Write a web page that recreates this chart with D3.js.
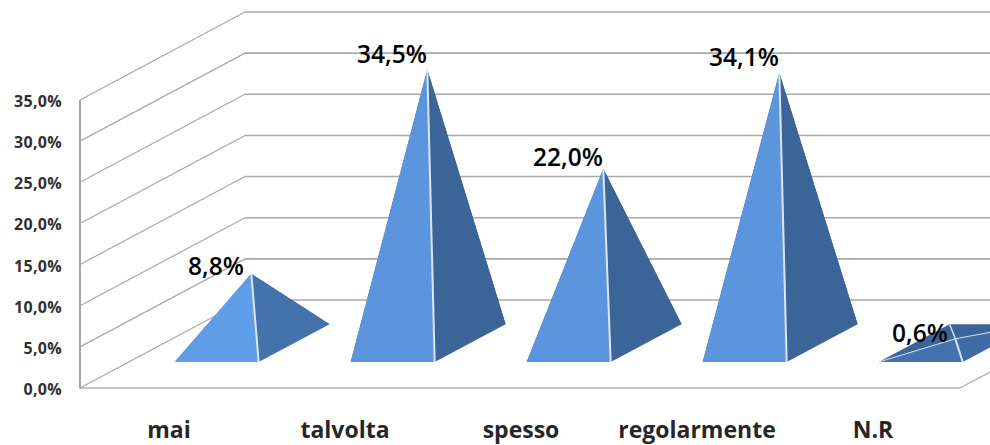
<!DOCTYPE html>
<html><head><meta charset="utf-8">
<script src="https://cdn.jsdelivr.net/npm/d3@7"></script>
<style>html,body{margin:0;padding:0;background:#fff;overflow:hidden}svg{display:block}</style>
</head><body><svg id="c" width="990" height="445"></svg>
<script>
const categories = ["mai","talvolta","spesso","regolarmente","N.R"];
const values = [8.8,34.5,22.0,34.1,0.6];
const valueLabels = ["8,8%","34,5%","22,0%","34,1%","0,6%"];
const tickValues = [0,5,10,15,20,25,30,35];
const tickLabels = ["0,0%","5,0%","10,0%","15,0%","20,0%","25,0%","30,0%","35,0%"];
const frontColors = ["#5f9de9","#5a95de","#5a95de","#5a95de","#4472ae"];
const sideColors = ["#4472aa","#3b6598","#3b6598","#3b6598","#3f6ca6"];

const svg = d3.select("#c");
const x = d3.scaleBand().domain(categories).range([80,960]);
const y = d3.scaleLinear().domain([0,35]).range([388,100]);
const apexH = d3.scaleLinear().domain([0,35]).range([0,278]);
const depth = d3.scaleLinear().domain([0,1]).range([0,165]);
const rise = d3.scaleLinear().domain([0,1]).range([0,88]);
const P = (wx,v,d)=>[wx+depth(d), y(v)-rise(d)];
const D0=0.295, D1=0.725, DM=0.505, HW=42;
const grid = "#a9a9a9";

const g = svg.append("g");
tickValues.forEach(t=>{
  const a=P(80,t,0), b=P(80,t,1), c=[990,b[1]];
  g.append("line").attr("x1",a[0]).attr("y1",a[1]).attr("x2",b[0]).attr("y2",b[1]).attr("stroke",grid).attr("stroke-width",1.2);
  g.append("line").attr("x1",b[0]).attr("y1",b[1]).attr("x2",c[0]).attr("y2",c[1]).attr("stroke",grid).attr("stroke-width",1.6);
});
const axisTop=P(80,35,0), axisBot=P(80,0,0), floorR=P(960,0,0);
g.append("line").attr("x1",axisTop[0]).attr("y1",axisTop[1]).attr("x2",axisBot[0]).attr("y2",axisBot[1]).attr("stroke","#a6a6a6").attr("stroke-width",2);
g.append("line").attr("x1",axisBot[0]-1).attr("y1",axisBot[1]).attr("x2",floorR[0]).attr("y2",floorR[1]).attr("stroke","#b0b0b0").attr("stroke-width",1.6);
g.append("line").attr("x1",floorR[0]).attr("y1",floorR[1]).attr("x2",990).attr("y2",floorR[1]-(30/165)*88).attr("stroke",grid).attr("stroke-width",1.2);

svg.append("g").selectAll("text").data(tickValues).join("text")
  .attr("x",62).attr("y",d=>y(d)+7).attr("text-anchor","end")
  .attr("font-family","'Open Sans',sans-serif").attr("font-weight",700).attr("font-size",16)
  .attr("letter-spacing",0.3).attr("fill","#303030").text((d,i)=>tickLabels[i]);

const poly = pts=>pts.map(p=>p.join(",")).join(" ");
categories.forEach((c,i)=>{
  const cx=x(c)+x.bandwidth()/2, v=values[i];
  const FL=P(cx-HW,0,D0), FR=P(cx+HW,0,D0), BR=P(cx+HW,0,D1), BL=P(cx-HW,0,D1);
  const m=P(cx,0,DM), A=[m[0], m[1]-apexH(v)];
  const pg=svg.append("g");
  pg.append("polygon").attr("points",poly([FL,BL,A])).attr("fill",sideColors[1]);
  pg.append("polygon").attr("points",poly([BL,BR,A])).attr("fill",sideColors[1]);
  pg.append("polygon").attr("points",poly([FL,FR,A])).attr("fill",frontColors[i]);
  pg.append("polygon").attr("points",poly([FR,BR,A])).attr("fill",sideColors[i]);
  pg.append("line").attr("x1",A[0]).attr("y1",A[1]).attr("x2",FR[0]).attr("y2",FR[1]).attr("stroke","#dbe7f5").attr("stroke-width",2);
  if(v<2){
    pg.append("line").attr("x1",FL[0]).attr("y1",FL[1]).attr("x2",A[0]).attr("y2",A[1]).attr("stroke","#cfdff0").attr("stroke-width",1);
    pg.append("line").attr("x1",A[0]).attr("y1",A[1]).attr("x2",BR[0]).attr("y2",BR[1]).attr("stroke","#cfdff0").attr("stroke-width",1);
    pg.append("line").attr("x1",A[0]).attr("y1",A[1]).attr("x2",BL[0]).attr("y2",BL[1]).attr("stroke","#dbe7f5").attr("stroke-width",1.4);
  }
});

svg.append("g").selectAll("text").data(categories).join("text")
  .attr("x",d=>x(d)+x.bandwidth()/2+48).attr("y",(d,i)=>y(values[i])-41)
  .attr("text-anchor","middle").attr("font-family","'Open Sans',sans-serif").attr("font-weight",600)
  .attr("font-size",24.5).attr("fill","#000").text((d,i)=>valueLabels[i]);

svg.append("g").selectAll("text").data(categories).join("text")
  .attr("x",d=>x(d)+x.bandwidth()/2+1).attr("y",438)
  .attr("text-anchor","middle").attr("font-family","'Open Sans',sans-serif").attr("font-weight",700)
  .attr("font-size",23).attr("fill","#262626").text(d=>d);
</script></body></html>
